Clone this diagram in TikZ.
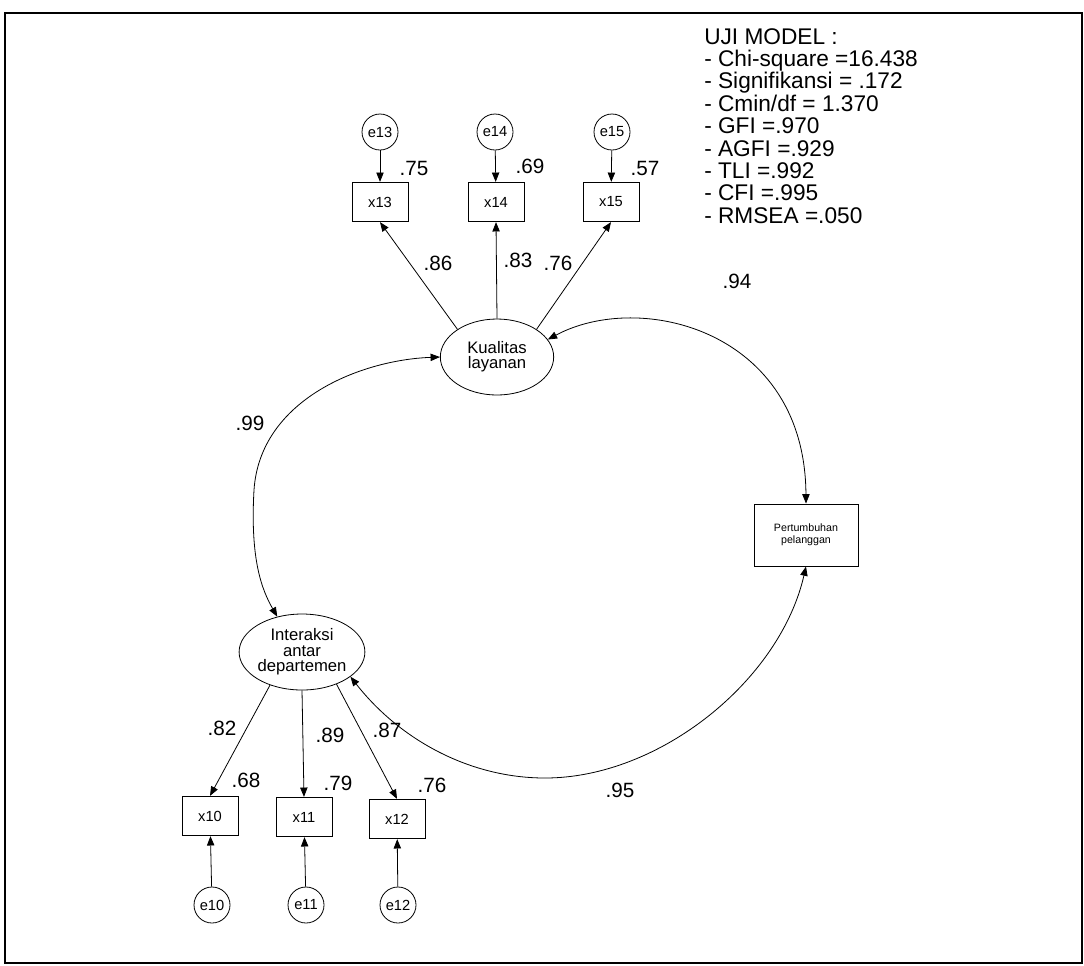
\documentclass[tikz,border=0pt]{standalone}
\usepackage{fontspec}
\setmainfont{Liberation Sans}
\usetikzlibrary{shapes.geometric,arrows.meta}
\begin{document}
\begin{tikzpicture}[x=0.75pt,y=-0.75pt,
  obs/.style={draw, rectangle, line width=0.7pt, minimum width=42pt, minimum height=29.5pt, inner sep=0pt, font=\fontsize{11}{11}\selectfont},
  err/.style={draw, circle, line width=0.6pt, minimum size=27pt, inner sep=0pt, font=\fontsize{11}{11}\selectfont},
  lat/.style={draw, ellipse, line width=0.6pt, minimum width=85pt, minimum height=57pt, inner sep=0pt, align=center, font=\fontsize{12.5}{11.5}\selectfont},
  lbl/.style={inner sep=0pt, font=\fontsize{15.5}{15.5}\selectfont},
  arr/.style={-{Triangle[length=7pt,width=5.5pt]}, line width=0.6pt},
  darr/.style={{Triangle[length=7pt,width=5.5pt]}-{Triangle[length=7pt,width=5.5pt]}, line width=0.6pt}
]
\useasboundingbox (0,0) rectangle (1084,965);
\draw[line width=1.1pt] (5,13) rectangle (1082,963);

% top block
\node[err] (e13) at (380,132) {e13};
\node[err] (e14) at (495,132) {e14};
\node[err] (e15) at (612,132) {e15};
\node[obs] (x13) at (380,202) {x13};
\node[obs] (x14) at (496,202) {x14};
\node[obs] (x15) at (611,202) {x15};
\node[lat] (kual) at (497,357) {Kualitas\\layanan};

\draw[arr] (e13) -- (x13);
\draw[arr] (e14) -- (x14);
\draw[arr] (e15) -- (x15);
\draw[arr] (kual.145) -- (x13.south);
\draw[arr] (kual.north) -- (x14.south);
\draw[arr] (kual.35) -- (x15.south);

\node[lbl] (l75) at (414,168) {.75};
\node[lbl] (l69) at (530,166) {.69};
\node[lbl] (l57) at (645,168) {.57};
\node[lbl] (l86) at (438,263) {.86};
\node[lbl] (l83) at (518,260) {.83};
\node[lbl] (l76t) at (558,263) {.76};

% bottom block
\node[lat, minimum width=86pt] (inter) at (302,652) {Interaksi\\antar\\departemen};
\node[obs] (x10) at (210,816) {x10};
\node[obs] (x11) at (304,817) {x11};
\node[obs] (x12) at (397,819) {x12};
\node[err] (e10) at (212,905) {e10};
\node[err] (e11) at (306,905) {e11};
\node[err] (e12) at (398,905) {e12};

\draw[arr] (inter.226) -- (x10.north);
\draw[arr] (inter.south) -- (x11.north);
\draw[arr] (inter.317) -- (x12.north);
\draw[arr] (e10) -- (x10);
\draw[arr] (e11) -- (x11);
\draw[arr] (e12) -- (x12);

\node[lbl] (l82) at (222,728) {.82};
\node[lbl] (l89) at (330,735) {.89};
\node[lbl] (l87) at (387,730) {.87};
\node[lbl] (l68) at (246,780) {.68};
\node[lbl] (l79) at (338,783) {.79};
\node[lbl] (l76b) at (432,785) {.76};

% Pertumbuhan
\node[draw, rectangle, line width=0.7pt, minimum width=78pt, minimum height=46.5pt, inner sep=0pt, align=center, font=\fontsize{8}{9}\selectfont] (pert) at (806,535) {Pertumbuhan\\pelanggan};

% correlations / curves
\draw[darr] (kual.19) .. controls (640,290) and (805,330) .. (pert.north);
\draw[darr] (kual.west) .. controls (360,360) and (260,400) .. (254,490) .. controls (250,560) and (262,590) .. (inter.125);
\draw[darr] (inter.333) .. controls (400,740) and (470,778) .. (545,778) .. controls (660,778) and (780,680) .. (pert.south);

\node[lbl] (l94) at (737,281) {.94};
\node[lbl] (l99) at (250,423) {.99};
\node[lbl] (l95) at (620,790) {.95};

% model test
\node[anchor=north west, align=left, inner sep=0pt, font=\fontsize{17}{16.8}\selectfont] (uji) at (704,28) {UJI MODEL :\\- Chi-square =16.438\\- Signifikansi = .172\\- Cmin/df = 1.370\\- GFI =.970\\- AGFI =.929\\- TLI =.992\\- CFI =.995\\- RMSEA =.050};
\end{tikzpicture}
\end{document}
